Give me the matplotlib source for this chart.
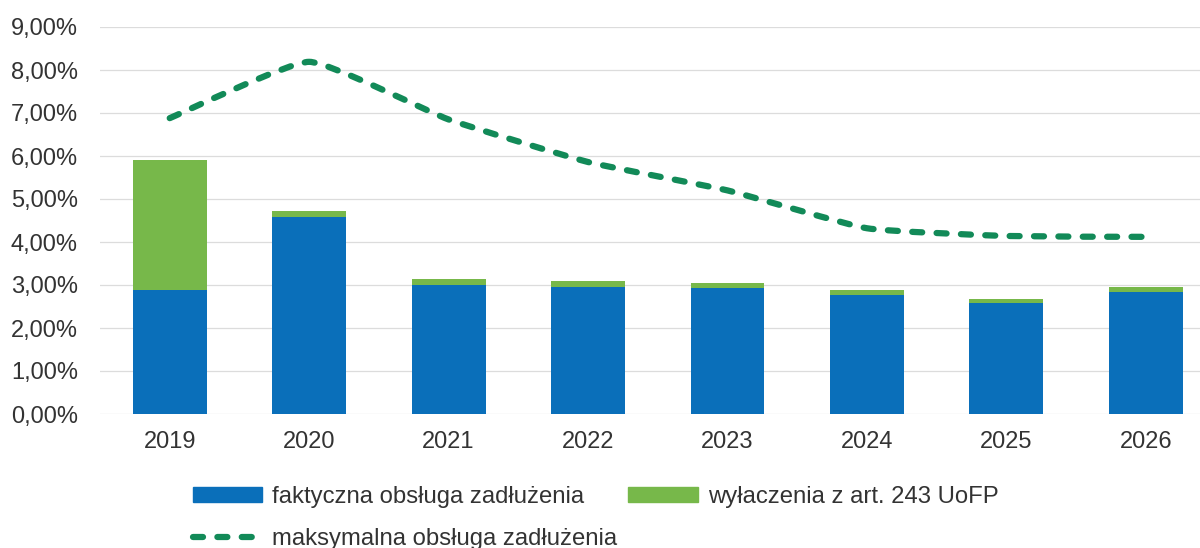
import matplotlib
matplotlib.use("Agg")
import matplotlib.pyplot as plt
from matplotlib.path import Path
from matplotlib.patches import PathPatch, Patch
from matplotlib.lines import Line2D
from matplotlib.ticker import FuncFormatter, MultipleLocator
import numpy as np

years = ["2019", "2020", "2021", "2022", "2023", "2024", "2025", "2026"]
faktyczna = [2.88, 4.58, 3.00, 2.95, 2.93, 2.77, 2.58, 2.83]
wylaczenia = [3.03, 0.14, 0.14, 0.14, 0.12, 0.11, 0.10, 0.12]
maksymalna = [6.88, 8.19, 6.85, 5.86, 5.20, 4.32, 4.14, 4.12]

label_blue = "faktyczna obsługa zadłużenia"
label_green = "wyłaczenia z art. 243 UoFP"
label_line = "maksymalna obsługa zadłużenia"

c_blue = "#0a6fba"
c_green = "#77b84a"
c_line = "#128a58"
c_text = "#333333"

plt.rcParams['font.family'] = ['Liberation Sans', 'DejaVu Sans']

fig = plt.figure(figsize=(12, 5.48), dpi=100)
ax = fig.add_axes([100/1200, 134/548, 1115.5/1200, 387/548])

x = np.arange(len(years))
ax.bar(x, faktyczna, width=0.53, color=c_blue, zorder=2)
ax.bar(x, wylaczenia, width=0.53, bottom=faktyczna, color=c_green, zorder=2)

# smoothed line (Bezier smoothing) through the data points
pts = np.column_stack([x, maksymalna]).astype(float)
verts = [tuple(pts[0])]
codes = [Path.MOVETO]
n = len(pts)
k = 1.0 / 14.0
for i in range(n - 1):
    p0 = pts[i - 1] if i > 0 else pts[i]
    p1 = pts[i]
    p2 = pts[i + 1]
    p3 = pts[i + 2] if i + 2 < n else pts[i + 1]
    c1 = p1 + (p2 - p0) * k
    c2 = p2 - (p3 - p1) * k
    verts += [tuple(c1), tuple(c2), tuple(p2)]
    codes += [Path.CURVE4] * 3
path = Path(verts, codes)
lw = 4.5
ls = (0, (1.6, 2.3))
patch = PathPatch(path, fill=False, edgecolor=c_line, lw=lw, linestyle=ls,
                  capstyle='round', zorder=3)
ax.add_patch(patch)

ax.set_xlim(-0.5, len(years) - 0.5)
ax.set_ylim(0, 9)
ax.yaxis.set_major_locator(MultipleLocator(1))
ax.yaxis.set_major_formatter(FuncFormatter(lambda v, p: f"{v:.2f}%".replace('.', ',')))
ax.set_xticks(x)
ax.set_xticklabels(years)
ax.grid(axis='y', color='#dcdcdc', lw=0.9, zorder=0)
ax.set_axisbelow(True)
for s in ax.spines.values():
    s.set_visible(False)
ax.tick_params(axis='both', length=0, labelsize=17, colors=c_text)
ax.tick_params(axis='y', pad=16)
ax.tick_params(axis='x', pad=12)

handles = [Patch(color=c_blue),
           Line2D([], [], color=c_line, lw=lw, linestyle=ls, dash_capstyle='round'),
           Patch(color=c_green)]
labels = [label_blue, label_line, label_green]
leg = fig.legend(handles, labels, ncol=2, loc='upper left',
                 bbox_to_anchor=(193/1200, 1 - 486/548), frameon=False,
                 fontsize=17.2, handlelength=2.9, handleheight=0.59,
                 handletextpad=0.42, columnspacing=0.46, labelspacing=0.85,
                 borderpad=0, borderaxespad=0)
for t in leg.get_texts():
    t.set_color(c_text)

fig.savefig("out.png", dpi=100)
